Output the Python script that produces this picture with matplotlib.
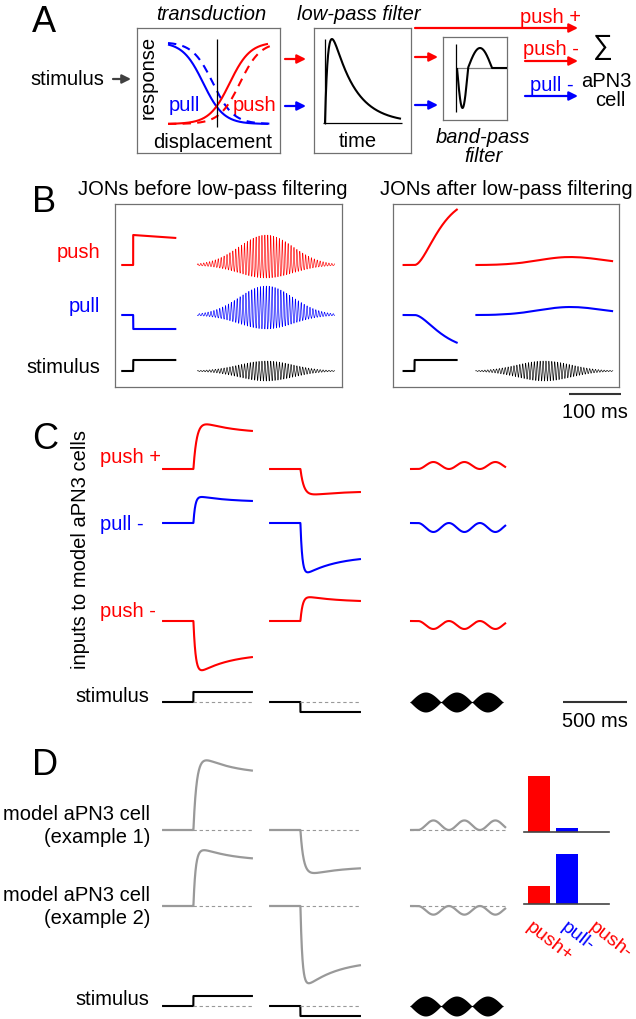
import numpy as np
import matplotlib.pyplot as plt

plt.rcParams['font.family'] = ['Liberation Sans', 'DejaVu Sans']
plt.rcParams['lines.solid_capstyle'] = 'butt'

W, H = 636, 1020
FS = 14.5
RED, BLUE, GRAY = '#ff0000', '#0000ff', '#999999'

# ---------------- data (arbitrary units) ----------------
# A: transduction curves (midpoints of the sigmoids, solid / dashed)
sig_mid_pull = [-0.27, -0.08]
sig_mid_push = [0.25, 0.45]
sig_slope = 5.0
# A: filter kernels
lp_tau_rise, lp_tau_decay = 3.0, 22.0
bp_lobe_len = [11, 24]
bp_lobe_amp = [-1.0, 0.5]

# B: JON responses
jon_names = ['push', 'pull', 'stimulus']
jon_colors = [RED, BLUE, 'black']
step_before = [30, -14, 11]
step_sag = [3, 0, 0]
burst_up = [30, 29, 10]
burst_down = [13, 14, 10]
step_after = [56, -28, 11]
wave_after = [8, 8, 0]
carrier_period = 5.6   # ms
burst_sigma = 52       # ms
lp_tau = 30            # ms

# C: inputs to model aPN3 cells
input_names = ['push +', 'pull -', 'push -']
input_colors = [RED, BLUE, RED]
rise_tau = [28, 15, 18]
pos_peak = [51, 28, -56]
pos_end = [38, 22, -36]
neg_peak = [-28, -55, 26]
neg_end = [-23, -36, 20]
sine_amp = [7, -9, -8]
stim_step = [10, -10]
stim_lobe = 10
mod_period = 242       # ms

# D: weights of the inputs for two example cells
weight_names = ['push+', 'pull-', 'push-']
weights_ex1 = [1.0, 0.07, 0.0]
weights_ex2 = [0.32, 0.89, 0.0]
cell_gain = 1.5

fig = plt.figure(figsize=(W / 100, H / 100), dpi=100)


def px_axes(x0, y0, x1, y1, xlim=None, ylim=None, frame=False):
    ax = fig.add_axes([x0 / W, 1 - y1 / H, (x1 - x0) / W, (y1 - y0) / H])
    ax.patch.set_alpha(0)
    ax.set_xticks([])
    ax.set_yticks([])
    for s in ax.spines.values():
        s.set_visible(frame)
        s.set_color('#707070')
        s.set_linewidth(0.9)
    if xlim is not None:
        ax.set_xlim(xlim)
    if ylim is not None:
        ax.set_ylim(ylim)
    return ax


ov = px_axes(0, 0, W, H, (0, W), (H, 0))


def txt(x, y, s, color='black', ha='center', size=FS, **kw):
    ov.text(x, y, s, color=color, ha=ha, va=kw.pop('va', 'baseline'), fontsize=size, **kw)


def arrow(x0, x1, y, color):
    ov.annotate('', xy=(x1, y), xytext=(x0, y),
                arrowprops=dict(arrowstyle='-|>', color=color, lw=1.6,
                                mutation_scale=13, shrinkA=0, shrinkB=0))


# ---------------- panel A ----------------
txt(44, 32, 'A', size=26)
txt(211, 20, 'transduction', style='italic')
txt(359, 20, 'low-pass filter', style='italic')
txt(30, 85, 'stimulus', ha='left')
arrow(113, 131, 80, '#404040')

px_axes(137, 29, 280, 154, frame=True)
axT = px_axes(164, 38, 274, 130, (-1.039, 1.118), (-0.061, 1.061))
xs = np.linspace(-0.96, 1.0, 200)
xd = np.linspace(-0.96, 1.04, 200)
axT.plot(xs, 1 / (1 + np.exp(sig_slope * (xs - sig_mid_pull[0]))), color=BLUE, lw=1.5)
axT.plot(xd, 1 / (1 + np.exp(sig_slope * (xd - sig_mid_pull[1]))), color=BLUE, lw=1.5, dashes=(4, 3))
axT.plot(xs, 1 / (1 + np.exp(-sig_slope * (xs - sig_mid_push[0]))), color=RED, lw=1.5)
axT.plot(xd, 1 / (1 + np.exp(-sig_slope * (xd - sig_mid_push[1]))), color=RED, lw=1.5, dashes=(4, 3))
axT.plot([0, 0], [-0.04, 1.04], color='black', lw=0.9)
txt(148, 77, 'response', rotation=90, va='center')
txt(184, 111, 'pull', BLUE)
txt(254, 111, 'push', RED)
txt(213, 148, 'displacement')

arrow(285, 306, 60, RED)
arrow(285, 306, 107, BLUE)

px_axes(314, 29, 411, 154, frame=True)
axL = px_axes(322, 38, 404, 127, (-3, 79), (-0.036, 1.024))
tk = np.linspace(0, 76, 300)
kern = np.exp(-tk / lp_tau_decay) - np.exp(-tk / lp_tau_rise)
axL.plot(tk, kern / kern.max(), color='black', lw=1.5)
axL.plot([0, 0], [-0.012, 1.0], color='black', lw=0.9)
axL.plot([-2, 77], [0, 0], color='black', lw=0.9)
txt(358, 147, 'time')

arrow(415, 578, 29, RED)
arrow(415, 438, 58, RED)
arrow(415, 438, 106, BLUE)

px_axes(443, 38, 507, 121, frame=True)
axP = px_axes(454, 43, 509, 115, (-2, 53), (-1.15, 0.65))
tb_k = np.linspace(1, 51, 400)
l1, l2 = bp_lobe_len
bp = np.where(tb_k < 1 + l1, bp_lobe_amp[0] * np.sin(np.pi * (tb_k - 1) / l1), 0.0)
bp = np.where((tb_k >= 1 + l1) & (tb_k < 1 + l1 + l2),
              bp_lobe_amp[1] * np.sin(np.pi * (tb_k - 1 - l1) / l2), bp)
axP.plot([0, 51], [0, 0], color='#808080', lw=0.9)
axP.plot([0, 0], [-1.1, 0.6], color='black', lw=0.9)
axP.plot(tb_k, bp, color='black', lw=1.5)
txt(483, 143, 'band-pass', style='italic')
txt(483, 162, 'filter', style='italic')

txt(551, 23, 'push +', RED)
txt(551, 55, 'push -', RED)
txt(552, 91, 'pull -', BLUE)
arrow(525, 578, 62, RED)
arrow(525, 578, 97, BLUE)
txt(603, 47, '\u2211', size=20, va='center')
txt(606, 87, 'aPN3')
txt(610, 106, 'cell')

# ---------------- panel B ----------------
txt(44, 212, 'B', size=26)
txt(213, 195, 'JONs before low-pass filtering')
txt(506, 195, 'JONs after low-pass filtering')
for name, c, y in zip(jon_names, jon_colors, [258, 312, 373]):
    txt(100, y, name, c, ha='right')

px_axes(115, 205, 342, 388, frame=True)
px_axes(393, 205, 619, 388, frame=True)
axB = px_axes(115, 200, 630, 420, (0, 515 / 0.52), (-154, 66))
row_B = [0, -50, -106]
b_step_start = [12, 553]
b_burst_start = [158, 693]
step_len, step_onset, burst_len = 106, 23, 265

dt = 0.1
ts = np.arange(0, step_len, dt)
tb = np.arange(0, burst_len, dt)
tkern = np.arange(0, 300, dt)
lp_kern = tkern * np.exp(-tkern / lp_tau)
lp_kern /= lp_kern.sum()


def lowpass(x):
    return np.convolve(x, lp_kern)[:len(x)]


env = np.exp(-0.5 * ((tb - burst_len / 2) / burst_sigma) ** 2)
carrier = env * np.sin(2 * np.pi * tb / carrier_period)
signs = [1, -1, 1]
for i in range(3):
    row = row_B[i]
    on = ts >= step_onset
    step = np.where(on, step_before[i] - step_sag[i] * (ts - step_onset) / (step_len - step_onset), 0.0)
    x = signs[i] * carrier
    burst = np.where(x > 0, burst_up[i] * x, burst_down[i] * x)
    axB.plot(b_step_start[0] + ts, row + step, color=jon_colors[i], lw=1.5)
    axB.plot(b_burst_start[0] + tb, row + burst, color=jon_colors[i], lw=0.45)
    if i < 2:
        fstep = lowpass(np.where(on, 1.0, 0.0) * step / step_before[i])
        fstep = step_after[i] * fstep / fstep.max()
        wave = lowpass(burst)
        wave = wave_after[i] * wave / wave.max()
        axB.plot(b_step_start[1] + ts, row + fstep, color=jon_colors[i], lw=1.5)
        axB.plot(b_burst_start[1] + tb, row + wave, color=jon_colors[i], lw=1.5)
    else:
        axB.plot(b_step_start[1] + ts, row + step, color='black', lw=1.5)
        axB.plot(b_burst_start[1] + tb, row + burst, color='black', lw=0.45)
axB.plot([873, 973], [-129, -129], color='#333333', lw=1.5)
txt(595, 418, '100 ms')

# ---------------- panel C ----------------
txt(45, 449, 'C', size=26)
for name, c, y in zip(input_names, input_colors, [463, 530, 617]):
    txt(100, y, name, c, ha='left')
txt(149, 702, 'stimulus', ha='right')
txt(80, 550, 'inputs to model aPN3 cells', va='center', rotation=90)

col_start = [16, 852, 1953]
col_len = [710, 718, 750]
onset = 245


def step_response(t, peak, end, T, tau_r=20.0, tau_a=250.0):
    tt = np.clip(t, 0, None)
    rise = 1 - np.exp(-tt / tau_r)
    decay = (np.exp(-tt / tau_a) - np.exp(-T / tau_a)) / (1 - np.exp(-T / tau_a))
    return np.where(t > 0, rise * (end + (peak - end) * decay), 0.0)


def sine_response(t, amp, delay=62):
    tt = np.clip(t - delay, 0, None)
    return amp * (1 - np.cos(2 * np.pi * tt / mod_period)) / 2


t1 = np.linspace(0, col_len[0], 800)
t2 = np.linspace(0, col_len[1], 800)
t3 = np.linspace(0, col_len[2], 800)
in1 = np.array([step_response(t1 - onset, p, e, col_len[0] - onset, tr)
                for p, e, tr in zip(pos_peak, pos_end, rise_tau)])
in2 = np.array([step_response(t2 - onset, p, e, col_len[1] - onset, tr)
                for p, e, tr in zip(neg_peak, neg_end, rise_tau)])
in3 = np.array([sine_response(t3, a) for a in sine_amp])
cols = [(t1, in1), (t2, in2), (t3, in3)]


def draw_stimulus(ax, row):
    for k in range(2):
        t = cols[k][0]
        ax.plot(col_start[k] + t, row + np.where(t >= onset, stim_step[k], 0), color='black', lw=1.5)
        ax.plot(col_start[k] + np.array([onset, col_len[k] - 8]), [row, row],
                color=GRAY, lw=0.8, dashes=(3, 2.5))
    tl = np.linspace(0, 3 * mod_period, 600)
    lobe = stim_lobe * np.abs(np.sin(np.pi * tl / mod_period))
    ax.fill_between(col_start[2] + tl, row - lobe, row + lobe, color='black', lw=0)
    ax.plot(col_start[2] + tl, row + 0 * tl, color='black', lw=0.8)


axC = px_axes(160, 410, 630, 730, (0, 470 / 0.128), (-260, 60))
row_C = [0, -54, -152]
for k, (t, inp) in enumerate(cols):
    for i in range(3):
        axC.plot(col_start[k] + t, row_C[i] + inp[i], color=input_colors[i], lw=1.5)
draw_stimulus(axC, -233)
axC.plot([3148, 3648], [-233, -233], color='#333333', lw=1.5)
txt(595, 727, '500 ms')

# ---------------- panel D ----------------
txt(45, 775, 'D', size=26)
txt(150, 820, 'model aPN3 cell', ha='right')
txt(150, 843, '(example 1)', ha='right')
txt(150, 901, 'model aPN3 cell', ha='right')
txt(150, 924, '(example 2)', ha='right')
txt(149, 1005, 'stimulus', ha='right')

axD = px_axes(160, 730, 630, 1020, (0, 470 / 0.128), (-189, 101))
for row, w in zip([0, -76], [weights_ex1, weights_ex2]):
    for k, (t, inp) in enumerate(cols):
        out = cell_gain * np.dot(w, inp)
        t_dash = onset if k < 2 else 0
        axD.plot(col_start[k] + np.array([t_dash, col_len[k]]), [row, row],
                 color=GRAY, lw=0.8, dashes=(3, 2.5))
        axD.plot(col_start[k] + t, row + out, color=GRAY, lw=1.6)
draw_stimulus(axD, -176)

bar_colors = [RED, BLUE, RED]


def bar_axes(y_base, vals):
    ax = px_axes(524, y_base - 61.6, 609, y_base, (-0.536, 2.5), (0, 1.1))
    ax.bar(range(3), vals, width=0.786, color=bar_colors)
    ax.spines['bottom'].set_visible(True)
    ax.spines['bottom'].set_color('#444444')
    ax.spines['bottom'].set_linewidth(1.2)
    return ax


bar_axes(833, weights_ex1)
axb2 = bar_axes(905, weights_ex2)
axb2.set_xticks([-0.22, 1.05, 2.05])
axb2.set_xticklabels(weight_names, rotation=-38, ha='left', va='top',
                     rotation_mode='anchor', fontsize=14)
axb2.tick_params(length=0, pad=10)
for lbl, c in zip(axb2.get_xticklabels(), bar_colors):
    lbl.set_color(c)

fig.savefig('out.png', dpi=100)
